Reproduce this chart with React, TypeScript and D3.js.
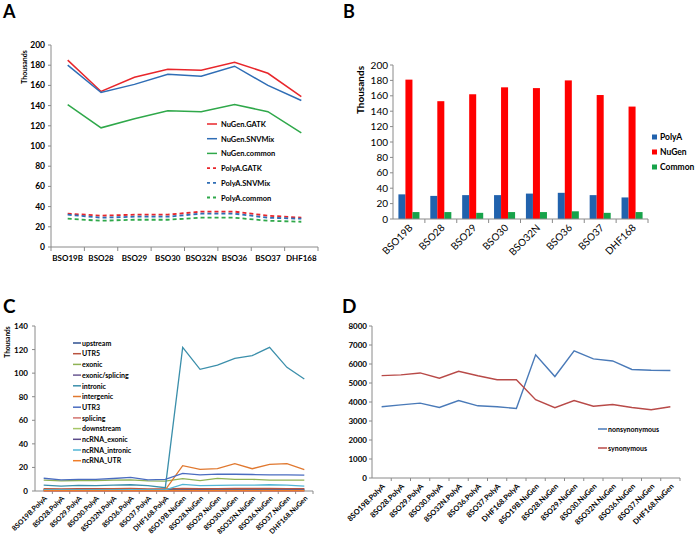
import React from "react";
import * as d3 from "d3";

// ---------- Data ----------
const samples = ["BSO19B", "BSO28", "BSO29", "BSO30", "BSO32N", "BSO36", "BSO37", "DHF168"];

// Panel A (thousands)
const nugenGATK = [185, 154, 168, 176, 175, 183, 172, 149];
const nugenSNVMix = [180, 153, 161, 171, 169, 179, 160, 145];
const nugenCommon = [141, 118, 127, 135, 134, 141, 134, 113];
const polyaGATK = [33, 31, 32, 32, 35, 35, 31, 29];
const polyaSNVMix = [32, 29, 30, 30, 33, 33, 29, 28];
const polyaCommon = [28, 26, 27, 27, 29, 29, 26, 25];
const ticksA = [0, 20, 40, 60, 80, 100, 120, 140, 160, 180, 200];

// Panel B (thousands)
const barPolyA = [32, 30, 31, 31, 33, 34, 31, 28];
const barNuGen = [181, 153, 162, 171, 170, 180, 161, 146];
const barCommon = [9, 9, 8, 9, 9, 10, 8, 9];
const seriesB = ["PolyA", "NuGen", "Common"];

// Panel C (thousands)
const samples16 = [
  "BSO19B.PolyA", "BSO28.PolyA", "BSO29.PolyA", "BSO30.PolyA", "BSO32N.PolyA", "BSO36.PolyA", "BSO37.PolyA", "DHF168.PolyA",
  "BSO19B.NuGen", "BSO28.NuGen", "BSO29.NuGen", "BSO30.NuGen", "BSO32N.NuGen", "BSO36.NuGen", "BSO37.NuGen", "DHF168.NuGen",
];
const labels16 = samples16.map((s) => s.replace(/^BSO/, "8SO"));
const upstream = [1.3, 1.1, 1.2, 1.2, 1.3, 1.3, 1.1, 1.0, 1.8, 1.5, 1.6, 1.7, 1.7, 1.8, 1.6, 1.5];
const utr5 = [2.0, 1.8, 1.9, 1.9, 2.0, 2.1, 1.8, 1.7, 2.3, 2.0, 2.1, 2.2, 2.2, 2.3, 2.1, 2.0];
const exonic = [9.2, 8.6, 8.9, 8.8, 9.3, 9.4, 8.6, 8.4, 10.5, 8.8, 10.7, 9.9, 9.9, 9.3, 9.3, 9.3];
const exonicSplicing = [0.1, 0.1, 0.1, 0.1, 0.1, 0.1, 0.1, 0.1, 0.1, 0.1, 0.1, 0.1, 0.1, 0.1, 0.1, 0.1];
const intronic = [5.0, 4.2, 4.8, 4.6, 5.0, 5.3, 4.5, 2.8, 121.9, 103.2, 106.9, 112.6, 114.8, 121.9, 104.9, 95.0];
const intergenic = [1.3, 1.1, 1.2, 1.2, 1.3, 1.4, 1.1, 1.0, 21.5, 18.4, 18.9, 23.2, 18.9, 22.6, 23.2, 18.1];
const utr3 = [10.8, 9.5, 9.9, 9.8, 10.6, 11.6, 9.5, 9.9, 15.0, 13.6, 14.4, 14.2, 14.0, 13.6, 13.6, 13.5];
const splicing = [0.1, 0.1, 0.1, 0.1, 0.1, 0.1, 0.1, 0.1, 0.1, 0.1, 0.1, 0.1, 0.1, 0.1, 0.1, 0.1];
const downstream = [0.8, 0.7, 0.8, 0.7, 0.8, 0.8, 0.7, 0.6, 1.2, 1.0, 1.1, 1.1, 1.1, 1.2, 1.0, 1.0];
const ncrnaExonic = [0.8, 0.7, 0.8, 0.8, 0.8, 0.9, 0.7, 0.7, 1.0, 0.9, 0.9, 1.0, 1.0, 1.0, 0.9, 0.9];
const ncrnaIntronic = [1.0, 0.9, 1.0, 1.0, 1.0, 1.1, 0.9, 0.9, 5.6, 4.5, 4.7, 5.0, 5.0, 5.3, 5.0, 4.2];
const ncrnaUTR = [0.3, 0.3, 0.3, 0.3, 0.3, 0.3, 0.3, 0.3, 0.4, 0.4, 0.4, 0.4, 0.4, 0.4, 0.4, 0.4];
const ticksC = [0, 20, 40, 60, 80, 100, 120, 140];

// Panel D (counts)
const nonsynonymous = [3750, 3850, 3940, 3710, 4080, 3800, 3750, 3660, 6480, 5340, 6690, 6270, 6160, 5710, 5670, 5660];
const synonymous = [5390, 5430, 5530, 5250, 5620, 5380, 5170, 5170, 4120, 3700, 4080, 3780, 3870, 3710, 3590, 3750];
const ticksD = [0, 1000, 2000, 3000, 4000, 5000, 6000, 7000, 8000];

const FONT = "Lato, 'Liberation Sans', Arial, sans-serif";
const AXIS = "#8a8a8a";

// ---------- Panel A ----------
function PanelA() {
  const x = d3.scaleBand<string>().domain(samples).range([51, 318]);
  const y = d3.scaleLinear().domain([0, 200]).range([247, 45]);
  const cx = (s: string) => (x(s) as number) + x.bandwidth() / 2;
  const line = d3.line<number>().x((_, i) => cx(samples[i])).y((d) => y(d));
  const series = [
    { name: "NuGen.GATK", data: nugenGATK, color: "#e8262b", dash: false },
    { name: "NuGen.SNVMix", data: nugenSNVMix, color: "#2f6db5", dash: false },
    { name: "NuGen.common", data: nugenCommon, color: "#2fa84a", dash: false },
    { name: "PolyA.GATK", data: polyaGATK, color: "#e8262b", dash: true },
    { name: "PolyA.SNVMix", data: polyaSNVMix, color: "#2f6db5", dash: true },
    { name: "PolyA.common", data: polyaCommon, color: "#2fa84a", dash: true },
  ];
  return (
    <g fontFamily={FONT}>
      <text x={3} y={18} fontSize={18} fontWeight="bold">A</text>
      <text transform="translate(27,67) rotate(-90)" fontSize={7} fontWeight="bold" textAnchor="middle">Thousands</text>
      <line x1={51} x2={51} y1={45} y2={247} stroke={AXIS} />
      <line x1={51} x2={318} y1={247} y2={247} stroke={AXIS} />
      {ticksA.map((t) => (
        <g key={t}>
          <line x1={48} x2={51} y1={y(t)} y2={y(t)} stroke={AXIS} />
          <text x={45} y={y(t) + 3} fontSize={8.5} fontWeight="bold" textAnchor="end">{t}</text>
        </g>
      ))}
      {samples.map((s, i) => (
        <g key={s}>
          <line x1={(x(s) as number) + x.bandwidth()} x2={(x(s) as number) + x.bandwidth()} y1={247} y2={251} stroke={AXIS} />
          {i === 0 && <line x1={51} x2={51} y1={247} y2={251} stroke={AXIS} />}
          <text x={cx(s)} y={261} fontSize={8} fontWeight="bold" textAnchor="middle">{s}</text>
        </g>
      ))}
      {series.map((sr) => (
        <path key={sr.name} d={line(sr.data) as string} fill="none" stroke={sr.color}
          strokeWidth={sr.dash ? 1.8 : 1.5} strokeDasharray={sr.dash ? "4,3" : undefined} />
      ))}
      {series.map((sr, i) => (
        <g key={sr.name} transform={`translate(207,${124 + i * 14.7})`}>
          <line x1={0} x2={10} y1={0} y2={0} stroke={sr.color} strokeWidth={sr.dash ? 1.8 : 1.5}
            strokeDasharray={sr.dash ? "3,3" : undefined} />
          <text x={14} y={3} fontSize={7.5} fontWeight="bold">{sr.name}</text>
        </g>
      ))}
    </g>
  );
}

// ---------- Panel B ----------
function PanelB() {
  const x = d3.scaleBand<string>().domain(samples).range([393, 648]).paddingInner(0.34).paddingOuter(0.17);
  const xs = d3.scaleBand<string>().domain(seriesB).range([0, x.bandwidth()]);
  const y = d3.scaleLinear().domain([0, 200]).range([219, 65]);
  const colors: Record<string, string> = { PolyA: "#2162ad", NuGen: "#ff0000", Common: "#17a34a" };
  const vals: Record<string, number[]> = { PolyA: barPolyA, NuGen: barNuGen, Common: barCommon };
  const step = x.step();
  return (
    <g fontFamily={FONT}>
      <text x={343} y={18} fontSize={18} fontWeight="bold">B</text>
      <text transform="translate(364,90) rotate(-90)" fontSize={10} fontWeight="bold" textAnchor="middle">Thousands</text>
      {seriesB.map((k) =>
        samples.map((s, i) => (
          <rect key={k + s} x={(x(s) as number) + (xs(k) as number)} y={y(vals[k][i])}
            width={xs.bandwidth()} height={219 - y(vals[k][i])} fill={colors[k]} />
        ))
      )}
      <line x1={393} x2={393} y1={65} y2={219} stroke={AXIS} />
      <line x1={393} x2={648} y1={219} y2={219} stroke={AXIS} />
      {ticksA.map((t) => (
        <g key={t}>
          <line x1={390} x2={393} y1={y(t)} y2={y(t)} stroke={AXIS} />
          <text x={388} y={y(t) + 3.5} fontSize={10} textAnchor="end">{t}</text>
        </g>
      ))}
      {samples.map((s, i) => {
        const c = (x(s) as number) + x.bandwidth() / 2;
        const right = 393 + step * (i + 1);
        return (
          <g key={s}>
            <line x1={right} x2={right} y1={219} y2={223} stroke={AXIS} />
            <text transform={`translate(${c + 2},${226}) rotate(-45)`} fontSize={10} textAnchor="end" dy="0.35em">{s}</text>
          </g>
        );
      })}
      {seriesB.map((k, i) => (
        <g key={k} transform={`translate(652,${137 + i * 15})`}>
          <rect x={0} y={-2.5} width={5} height={5} fill={colors[k]} />
          <text x={8} y={3} fontSize={8.5} fontWeight="bold">{k}</text>
        </g>
      ))}
    </g>
  );
}

// ---------- Panel C ----------
function PanelC() {
  const x = d3.scaleBand<string>().domain(samples16).range([35, 313]);
  const y = d3.scaleLinear().domain([0, 140]).range([491, 326]);
  const cx = (i: number) => (x(samples16[i]) as number) + x.bandwidth() / 2;
  const line = d3.line<number>().x((_, i) => cx(i)).y((d) => y(d));
  const series = [
    { name: "upstream", data: upstream, color: "#2e4f8f" },
    { name: "UTR5", data: utr5, color: "#b9533f" },
    { name: "exonic", data: exonic, color: "#8eb254" },
    { name: "exonic/splicing", data: exonicSplicing, color: "#6a5892" },
    { name: "intronic", data: intronic, color: "#3b8fab" },
    { name: "intergenic", data: intergenic, color: "#e0782f" },
    { name: "UTR3", data: utr3, color: "#4a6cc0" },
    { name: "splicing", data: splicing, color: "#d3736e" },
    { name: "downstream", data: downstream, color: "#a6c667" },
    { name: "ncRNA_exonic", data: ncrnaExonic, color: "#5b4a8a" },
    { name: "ncRNA_intronic", data: ncrnaIntronic, color: "#52b6d6" },
    { name: "ncRNA_UTR", data: ncrnaUTR, color: "#f07d28" },
  ];
  return (
    <g fontFamily={FONT}>
      <text x={3} y={313} fontSize={19} fontWeight="bold">C</text>
      <text transform="translate(10,342) rotate(-90)" fontSize={6.5} fontWeight="bold" textAnchor="middle">Thousands</text>
      <line x1={35} x2={35} y1={326} y2={491} stroke={AXIS} />
      <line x1={35} x2={313} y1={491} y2={491} stroke={AXIS} />
      {ticksC.map((t) => (
        <g key={t}>
          <line x1={32} x2={35} y1={y(t)} y2={y(t)} stroke={AXIS} />
          <text x={28} y={y(t) + 3} fontSize={8} fontWeight="bold" textAnchor="end">{t}</text>
        </g>
      ))}
      {labels16.map((s, i) => (
        <g key={s}>
          <line x1={35 + x.step() * (i + 1)} x2={35 + x.step() * (i + 1)} y1={491} y2={494} stroke={AXIS} />
          <text transform={`translate(${cx(i) + 2},${497}) rotate(-45)`} fontSize={7} fontWeight="bold" textAnchor="end" dy="0.35em">{s}</text>
        </g>
      ))}
      {series.map((sr) => (
        <path key={sr.name} d={line(sr.data) as string} fill="none" stroke={sr.color} strokeWidth={1.3} />
      ))}
      {series.map((sr, i) => (
        <g key={sr.name} transform={`translate(73,${343 + i * 10.7})`}>
          <line x1={0} x2={8} y1={0} y2={0} stroke={sr.color} strokeWidth={1.5} />
          <text x={9} y={2.7} fontSize={7} fontWeight="bold">{sr.name}</text>
        </g>
      ))}
    </g>
  );
}

// ---------- Panel D ----------
function PanelD() {
  const x = d3.scaleBand<string>().domain(samples16).range([372, 680]);
  const y = d3.scaleLinear().domain([0, 8000]).range([478, 326]);
  const cx = (i: number) => (x(samples16[i]) as number) + x.bandwidth() / 2;
  const line = d3.line<number>().x((_, i) => cx(i)).y((d) => y(d));
  const series = [
    { name: "nonsynonymous", data: nonsynonymous, color: "#4a7ab8" },
    { name: "synonymous", data: synonymous, color: "#b84a48" },
  ];
  return (
    <g fontFamily={FONT}>
      <text x={342} y={313} fontSize={19} fontWeight="bold">D</text>
      <line x1={372} x2={372} y1={326} y2={478} stroke={AXIS} />
      <line x1={372} x2={680} y1={478} y2={478} stroke={AXIS} />
      {ticksD.map((t) => (
        <g key={t}>
          <line x1={369} x2={372} y1={y(t)} y2={y(t)} stroke={AXIS} />
          <text x={367} y={y(t) + 3} fontSize={8} fontWeight="bold" textAnchor="end">{t}</text>
        </g>
      ))}
      {labels16.map((s, i) => (
        <g key={s}>
          <line x1={372 + x.step() * (i + 1)} x2={372 + x.step() * (i + 1)} y1={478} y2={481} stroke={AXIS} />
          <text transform={`translate(${cx(i) + 2},${485}) rotate(-45)`} fontSize={7.5} fontWeight="bold" textAnchor="end" dy="0.35em">{s}</text>
        </g>
      ))}
      {series.map((sr) => (
        <path key={sr.name} d={line(sr.data) as string} fill="none" stroke={sr.color} strokeWidth={1.4} />
      ))}
      {series.map((sr, i) => (
        <g key={sr.name} transform={`translate(598,${429 + i * 19})`}>
          <line x1={0} x2={9} y1={0} y2={0} stroke={sr.color} strokeWidth={1.5} />
          <text x={10} y={2.7} fontSize={7} fontWeight="bold">{sr.name}</text>
        </g>
      ))}
    </g>
  );
}

export default function App() {
  return (
    <svg width={697} height={543} style={{ position: "absolute", left: 0, top: 0, background: "#fff" }}>
      <rect x={0} y={0} width={697} height={543} fill="#fff" />
      <PanelA />
      <PanelB />
      <PanelC />
      <PanelD />
    </svg>
  );
}
